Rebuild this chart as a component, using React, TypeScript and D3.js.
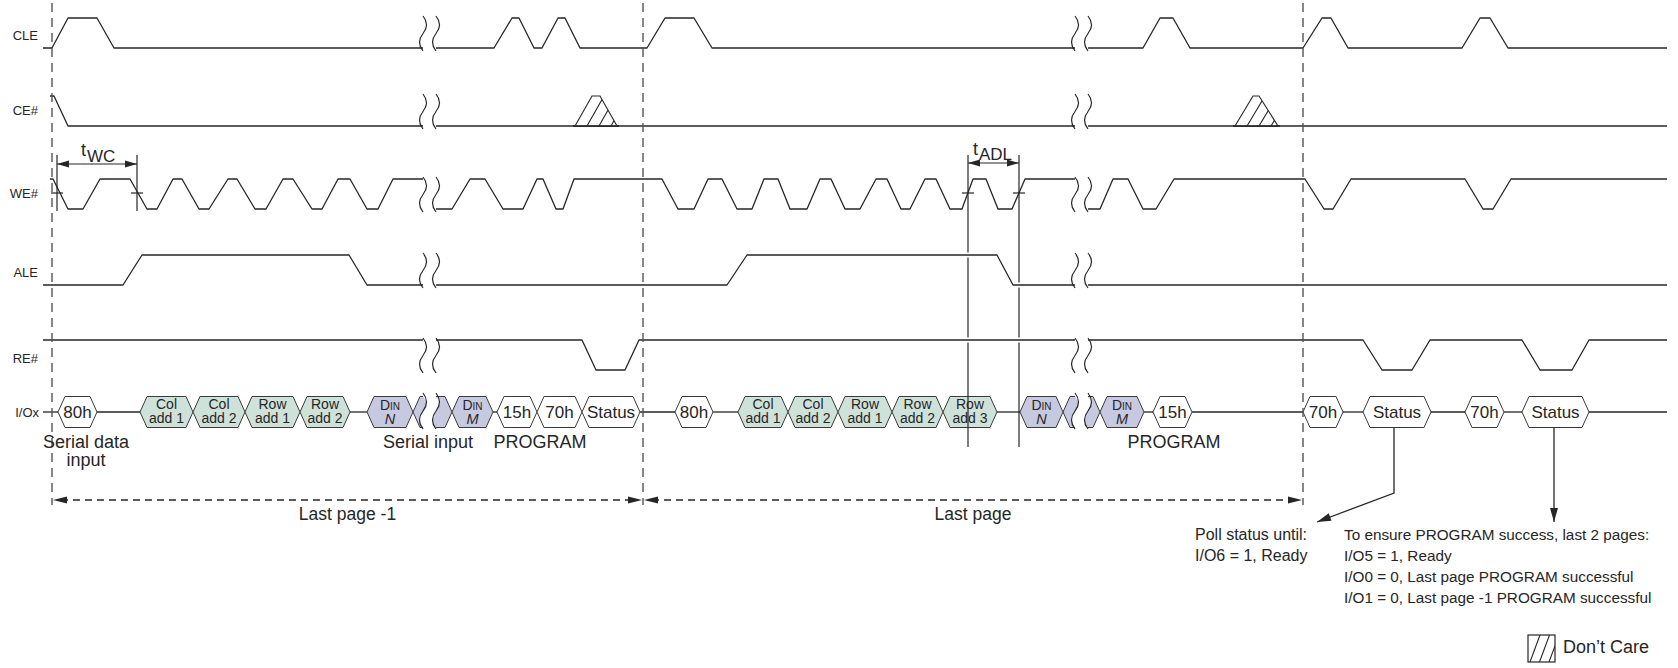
import React from 'react';
import * as d3 from 'd3';

type Pt = [number, number];

// ---------- waveform data: [time, level] (level 1 = high, 0 = low), split at the break marks ----------
const CLE_WAVE: Pt[][] = [
  [[43, 0], [52, 0], [68, 1], [97, 1], [114, 0], [423, 0]],
  [[436, 0], [494, 0], [512, 1], [519, 1], [534, 0], [542, 0], [558, 1], [565, 1], [580, 0], [647, 0], [665, 1], [694, 1], [712, 0], [1075, 0]],
  [[1088, 0], [1143, 0], [1160, 1], [1173, 1], [1190, 0], [1303, 0], [1322, 1], [1331, 1], [1348, 0], [1462, 0], [1480, 1], [1490, 1], [1508, 0], [1667, 0]],
];
const CE_WAVE: Pt[][] = [
  [[50, 1], [54, 1], [68, 0], [423, 0]],
  [[436, 0], [1075, 0]],
  [[1088, 0], [1667, 0]],
];
const WE_WAVE: Pt[][] = [
  [[50, 1], [53, 1], [68, 0], [83, 0], [100, 1], [130, 1], [147, 0], [157, 0], [173, 1], [182, 1], [199, 0], [209, 0], [228, 1], [237, 1], [255, 0], [266, 0], [283, 1], [293, 1], [312, 0], [322, 0], [338, 1], [350, 1], [367, 0], [378, 0], [393, 1], [423, 1]],
  [[436, 0], [452, 0], [470, 1], [485, 1], [503, 0], [523, 0], [537, 1], [543, 1], [556, 0], [563, 0], [574, 1], [662, 1], [678, 0], [694, 0], [708, 1], [722, 1], [737, 0], [752, 0], [764, 1], [778, 1], [790, 0], [807, 0], [820, 1], [831, 1], [845, 0], [860, 0], [876, 1], [887, 1], [901, 0], [910, 0], [925, 1], [936, 1], [950, 0], [962, 0], [973, 1], [986, 1], [998, 0], [1012, 0], [1025, 1], [1075, 1]],
  [[1088, 0], [1100, 0], [1113, 1], [1128, 1], [1143, 0], [1156, 0], [1174, 1], [1305, 1], [1324, 0], [1333, 0], [1351, 1], [1465, 1], [1483, 0], [1493, 0], [1511, 1], [1667, 1]],
];
const ALE_WAVE: Pt[][] = [
  [[43, 0], [123, 0], [142, 1], [349, 1], [367, 0], [423, 0]],
  [[436, 0], [727, 0], [747, 1], [997, 1], [1013, 0], [1075, 0]],
  [[1088, 0], [1667, 0]],
];
const RE_WAVE: Pt[][] = [
  [[43, 1], [423, 1]],
  [[436, 1], [582, 1], [596, 0], [625, 0], [639, 1], [1075, 1]],
  [[1088, 1], [1363, 1], [1382, 0], [1412, 0], [1430, 1], [1522, 1], [1540, 0], [1572, 0], [1589, 1], [1667, 1]],
];
const SIGNAL_LABELS = ['CLE', 'CE#', 'WE#', 'ALE', 'RE#'];
const CE_DONT_CARE: [number, number, number, number][] = [[575, 592, 600, 617], [1235, 1253, 1259, 1278]];
const BREAKS = [423, 436, 1075, 1088];

// ---------- I/O bus ----------
const IO_LABEL = 'I/Ox';
const IO_CELLS: [number, number, string, string][] = [
  [58, 97, '80h', 'cmd'],
  [140, 193, 'Col|add 1', 'addr'],
  [193, 245, 'Col|add 2', 'addr'],
  [245, 300, 'Row|add 1', 'addr'],
  [300, 350, 'Row|add 2', 'addr'],
  [367, 413, 'N', 'data'],
  [452, 493, 'M', 'data'],
  [497, 537, '15h', 'cmd'],
  [537, 582, '70h', 'cmd'],
  [582, 640, 'Status', 'cmd'],
  [675, 713, '80h', 'cmd'],
  [738, 788, 'Col|add 1', 'addr'],
  [788, 838, 'Col|add 2', 'addr'],
  [838, 892, 'Row|add 1', 'addr'],
  [892, 943, 'Row|add 2', 'addr'],
  [943, 997, 'Row|add 3', 'addr'],
  [1020, 1063, 'N', 'data'],
  [1100, 1144, 'M', 'data'],
  [1153, 1192, '15h', 'cmd'],
  [1303, 1343, '70h', 'cmd'],
  [1363, 1431, 'Status', 'cmd'],
  [1465, 1504, '70h', 'cmd'],
  [1522, 1589, 'Status', 'cmd'],
];
const IO_IDLE: [number, number][] = [[43, 58], [97, 140], [350, 367], [493, 497], [640, 675], [713, 738], [997, 1020], [1144, 1153], [1192, 1303], [1343, 1363], [1431, 1465], [1504, 1522], [1589, 1667]];
const IO_PARTIAL: [number, number, string][] = [[413, 423, 'out'], [436, 452, 'in'], [1063, 1075, 'out'], [1088, 1100, 'in']];

// ---------- annotations ----------
const PAGE_MARKS = [52, 643, 1303];
const PAGE_LABELS = ['Last page -1', 'Last page'];
const T_WC = [57, 137];
const T_ADL = [968, 1019];
const PHASE_LABELS: [number, string[]][] = [[86, ['Serial data', 'input']], [428, ['Serial input']], [540, ['PROGRAM']], [1174, ['PROGRAM']]];
const POLL_NOTE = ['Poll status until:', 'I/O6 = 1, Ready'];
const VERIFY_NOTE = ['To ensure PROGRAM success, last 2 pages:', 'I/O5 = 1, Ready', 'I/O0 = 0, Last page PROGRAM successful', 'I/O1 = 0, Last page -1 PROGRAM successful'];
const STATUS_TAPS: Pt[][] = [[[1394, 427], [1394, 493], [1317, 522]], [[1554, 427], [1554, 522]]];

// ---------- layout ----------
const W = 1678, H = 668;
const ROWS = [
  { high: 18, low: 48, label: 39.5 },
  { high: 96, low: 126, label: 114.5 },
  { high: 179, low: 209, label: 197.5 },
  { high: 255, low: 285, label: 276.5 },
  { high: 340, low: 370, label: 362.5 },
];
const IO_Y = 412, IO_H = 15.5, SLANT = 7;
const FONT = '"Liberation Sans", Arial, sans-serif';
const INK = '#262626';
const FILL = { cmd: '#ffffff', addr: '#cfe2da', data: '#c6c9e0' } as Record<string, string>;

const wave = (x0: number, y0: number, y1: number) => {
  const h = y1 - y0;
  return `M${x0},${y0} Q${x0 + 7},${y0 + h * 0.25} ${x0},${y0 + h * 0.5} Q${x0 - 7},${y0 + h * 0.75} ${x0},${y1}`;
};

const arrowHead = (tip: Pt, from: Pt, len = 12, half = 3.5) => {
  const dx = tip[0] - from[0], dy = tip[1] - from[1];
  const L = Math.hypot(dx, dy);
  const ux = dx / L, uy = dy / L;
  const bx = tip[0] - ux * len, by = tip[1] - uy * len;
  return `M${tip[0]},${tip[1]} L${bx - uy * half},${by + ux * half} L${bx + uy * half},${by - ux * half} Z`;
};

export default function App() {
  const x = d3.scaleLinear().domain([0, W]).range([0, W]);
  const ioY = d3.scaleLinear().domain([-1, 1]).range([IO_Y + IO_H, IO_Y - IO_H]);

  const hexPath = (a: number, b: number) => {
    const x0 = x(a), x1 = x(b);
    return `M${x0},${ioY(0)} L${x0 + SLANT},${ioY(1)} L${x1 - SLANT},${ioY(1)} L${x1},${ioY(0)} L${x1 - SLANT},${ioY(-1)} L${x0 + SLANT},${ioY(-1)} Z`;
  };

  const signalEls = [CLE_WAVE, CE_WAVE, WE_WAVE, ALE_WAVE, RE_WAVE].map((segs, i) => {
    const r = ROWS[i];
    const y = d3.scaleLinear().domain([0, 1]).range([r.low, r.high]);
    const line = d3.line<Pt>().x(d => x(d[0])).y(d => y(d[1]));
    return (
      <g key={'sig' + i}>
        <text x={38} y={r.label} textAnchor="end" fontSize={13} fontFamily={FONT} fill={INK}>{SIGNAL_LABELS[i]}</text>
        {segs.map((s, j) => (
          <g key={j}>
            {i >= 3 && <path d={line(s) || ''} fill="none" stroke="#fff" strokeWidth={5} />}
            <path d={line(s) || ''} fill="none" stroke={INK} strokeWidth={1.3} strokeLinejoin="round" />
          </g>
        ))}
        {BREAKS.map((b, j) => (
          <path key={'b' + j} d={wave(x(b), r.high - 2, r.low + 3)} fill="none" stroke={INK} strokeWidth={1.2} />
        ))}
      </g>
    );
  });

  const dontCare = CE_DONT_CARE.map((d, i) => {
    const r = ROWS[1];
    const pts = `${x(d[0])},${r.low} ${x(d[1])},${r.high} ${x(d[2])},${r.high} ${x(d[3])},${r.low}`;
    const dx = x(d[1]) - x(d[0]);
    return (
      <g key={'dc' + i}>
        <clipPath id={'dcclip' + i}><polygon points={pts} /></clipPath>
        <polygon points={pts} fill="#fff" stroke={INK} strokeWidth={1.1} />
        <g clipPath={`url(#dcclip${i})`}>
          {[1, 2, 3].map(k => (
            <line key={k} x1={x(d[0]) + k * 12} y1={r.low} x2={x(d[0]) + k * 12 + dx} y2={r.high} stroke={INK} strokeWidth={1.1} />
          ))}
        </g>
        <line x1={x(d[0]) - 2} x2={x(d[3]) + 2} y1={r.low} y2={r.low} stroke={INK} strokeWidth={1.3} />
      </g>
    );
  });

  const ioTop = ioY(1), ioBot = ioY(-1), ioMid = ioY(0);

  const partials = IO_PARTIAL.map(([a, b, side], i) => {
    const xa = x(a), xb = x(b);
    const h = ioBot - ioTop;
    let fillD: string, edgeD: string;
    if (side === 'out') {
      fillD = `M${xa},${ioMid} L${xa + SLANT},${ioTop} L${xb},${ioTop} Q${xb + 7},${ioTop + h * 0.25} ${xb},${ioTop + h * 0.5} Q${xb - 7},${ioTop + h * 0.75} ${xb},${ioBot} L${xa + SLANT},${ioBot} Z`;
      edgeD = `M${xb},${ioTop} L${xa + SLANT},${ioTop} L${xa},${ioMid} L${xa + SLANT},${ioBot} L${xb},${ioBot}`;
    } else {
      fillD = `M${xa},${ioTop} Q${xa + 7},${ioTop + h * 0.25} ${xa},${ioTop + h * 0.5} Q${xa - 7},${ioTop + h * 0.75} ${xa},${ioBot} L${xb - SLANT},${ioBot} L${xb},${ioMid} L${xb - SLANT},${ioTop} Z`;
      edgeD = `M${xa},${ioTop} L${xb - SLANT},${ioTop} L${xb},${ioMid} L${xb - SLANT},${ioBot} L${xa},${ioBot}`;
    }
    return (
      <g key={'p' + i}>
        <path d={fillD} fill={FILL.data} stroke="none" />
        <path d={edgeD} fill="none" stroke="#3a3a3a" strokeWidth={1} />
      </g>
    );
  });

  const cells = IO_CELLS.map(([a, b, label, kind], i) => {
    const cx = (x(a) + x(b)) / 2;
    let txt: React.ReactNode;
    if (kind === 'data') {
      txt = (
        <>
          <text x={cx} y={409.5} textAnchor="middle" fontFamily={FONT} fill={INK}>
            <tspan fontSize={14}>D</tspan><tspan fontSize={10}>IN</tspan>
          </text>
          <text x={cx} y={423.5} textAnchor="middle" fontFamily={FONT} fontSize={14.5} fontStyle="italic" fill={INK}>{label}</text>
        </>
      );
    } else if (label.includes('|')) {
      const [l1, l2] = label.split('|');
      txt = (
        <>
          <text x={cx} y={409} textAnchor="middle" fontFamily={FONT} fontSize={14} fill={INK}>{l1}</text>
          <text x={cx} y={423} textAnchor="middle" fontFamily={FONT} fontSize={14} fill={INK}>{l2}</text>
        </>
      );
    } else {
      txt = <text x={cx} y={418} textAnchor="middle" fontFamily={FONT} fontSize={17} fill={INK}>{label}</text>;
    }
    return (
      <g key={'c' + i}>
        <path d={hexPath(a, b)} fill={FILL[kind]} stroke="#3a3a3a" strokeWidth={1} />
        {txt}
      </g>
    );
  });

  const timingMark = (xs: number[], yTop: number, yBot: number, yArrow: number, sub: string, tX: number, subX: number, tBase: number, subBase: number) => (
    <g>
      {xs.map((v, i) => (
        <g key={i}>
          <line x1={x(v)} x2={x(v)} y1={yTop} y2={yBot} stroke={INK} strokeWidth={1.2} />
          <line x1={x(v) - 6} x2={x(v) + 6} y1={193} y2={193} stroke={INK} strokeWidth={1.2} />
        </g>
      ))}
      <line x1={x(xs[0])} x2={x(xs[1])} y1={yArrow} y2={yArrow} stroke={INK} strokeWidth={1.2} />
      <path d={arrowHead([x(xs[0]), yArrow], [x(xs[1]), yArrow])} fill={INK} />
      <path d={arrowHead([x(xs[1]), yArrow], [x(xs[0]), yArrow])} fill={INK} />
      <text x={tX} y={tBase} fontFamily={FONT} fontSize={18} fill={INK}>t</text>
      <text x={subX} y={subBase} fontFamily={FONT} fontSize={17} fill={INK}>{sub}</text>
    </g>
  );

  const pageY = 500;
  const pageArrows = PAGE_LABELS.map((lab, i) => {
    const a = x(PAGE_MARKS[i]) + 1, b = x(PAGE_MARKS[i + 1]) - 1;
    return (
      <g key={'pg' + i}>
        <line x1={a + 8} x2={b - 8} y1={pageY} y2={pageY} stroke={INK} strokeWidth={1.3} strokeDasharray="7,5" />
        <path d={arrowHead([a, pageY], [b, pageY], 14, 3.5)} fill={INK} />
        <path d={arrowHead([b, pageY], [a, pageY], 14, 3.5)} fill={INK} />
        <text x={(a + b) / 2} y={520} textAnchor="middle" fontFamily={FONT} fontSize={17.5} fill={INK}>{lab}</text>
      </g>
    );
  });

  const tapLine = d3.line<Pt>().x(d => x(d[0])).y(d => d[1]);

  return (
    <svg width={W} height={H} viewBox={`0 0 ${W} ${H}`} style={{ position: 'absolute', left: 0, top: 0, background: '#fff' }}>
      <rect x={0} y={0} width={W} height={H} fill="#fff" />

      {/* I/O bus */}
      <text x={39} y={416.5} textAnchor="end" fontSize={13} fontFamily={FONT} fill={INK}>{IO_LABEL}</text>
      {IO_IDLE.map(([a, b], i) => (
        <line key={'idle' + i} x1={x(a)} x2={x(b)} y1={ioMid} y2={ioMid} stroke={INK} strokeWidth={1.3} />
      ))}
      {partials}
      {cells}
      {BREAKS.map((b, j) => (
        <path key={'iob' + j} d={wave(x(b), 393, 429)} fill="none" stroke={INK} strokeWidth={1.2} />
      ))}

      {/* timing marks */}
      {timingMark(T_WC, 155, 211, 164, 'WC', 81, 87, 156, 162)}
      {timingMark(T_ADL, 155, 447, 163, 'ADL', 973, 979, 155, 160)}

      {signalEls}
      {dontCare}

      {/* page dividers */}
      {PAGE_MARKS.map((v, i) => (
        <line key={'pm' + i} x1={x(v)} x2={x(v)} y1={3} y2={505} stroke="#555" strokeWidth={1.4} strokeDasharray="9,6" />
      ))}
      {pageArrows}

      {/* phase labels */}
      {PHASE_LABELS.map(([cx, lines], i) => (
        <text key={'ph' + i} x={x(cx)} y={448} textAnchor="middle" fontFamily={FONT} fontSize={18} fill={INK}>
          {lines.map((l, j) => <tspan key={j} x={x(cx)} dy={j === 0 ? 0 : 18}>{l}</tspan>)}
        </text>
      ))}

      {/* status taps */}
      {STATUS_TAPS.map((pts, i) => (
        <g key={'tap' + i}>
          <path d={tapLine(pts) || ''} fill="none" stroke={INK} strokeWidth={1.3} />
          <path d={arrowHead([x(pts[pts.length - 1][0]), pts[pts.length - 1][1]], [x(pts[pts.length - 2][0]), pts[pts.length - 2][1]], 14, 4)} fill={INK} />
        </g>
      ))}
      {POLL_NOTE.map((l, i) => (
        <text key={'pn' + i} x={1195} y={540 + i * 21} fontFamily={FONT} fontSize={16} fill={INK}>{l}</text>
      ))}
      {VERIFY_NOTE.map((l, i) => (
        <text key={'vn' + i} x={1344} y={540 + i * 21} fontFamily={FONT} fontSize={15.3} fill={INK}>{l}</text>
      ))}

      {/* legend */}
      <clipPath id="legclip"><rect x={1528} y={635} width={27} height={27} /></clipPath>
      <rect x={1528} y={635} width={27} height={27} fill="#fff" stroke={INK} strokeWidth={1.2} />
      <g clipPath="url(#legclip)">
        {[0, 1, 2].map(k => (
          <line key={k} x1={1528 + 2 + k * 9.5} y1={662} x2={1528 + 12 + k * 9.5} y2={635} stroke={INK} strokeWidth={1.1} />
        ))}
      </g>
      <text x={1563} y={653} fontFamily={FONT} fontSize={18} fill={INK}>Don’t Care</text>
    </svg>
  );
}
